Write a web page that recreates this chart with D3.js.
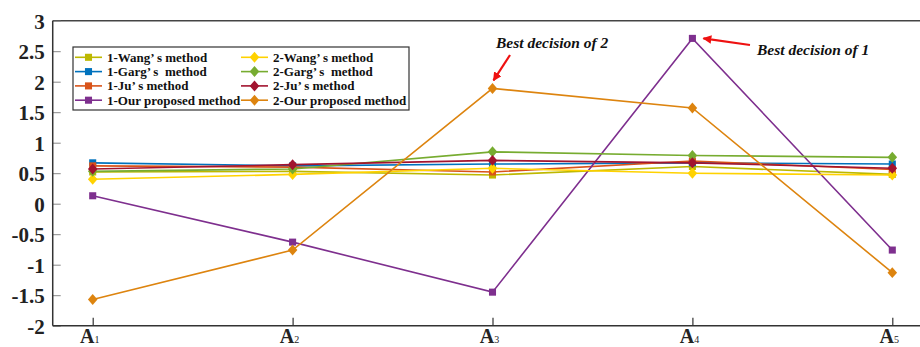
<!DOCTYPE html>
<html>
<head>
<meta charset="utf-8">
<script src="https://cdn.jsdelivr.net/npm/d3@7"></script>
<style>
  body { margin: 0; background: #fff; }
  svg text { font-family: "Liberation Serif", "Times New Roman", "DejaVu Serif", serif; }
</style>
</head>
<body>
<div id="chart"></div>
<script>
const alternatives = ["A1", "A2", "A3", "A4", "A5"];
const yTicks = [3, 2.5, 2, 1.5, 1, 0.5, 0, -0.5, -1, -1.5, -2];

const wang1 = [0.52, 0.53, 0.47, 0.61, 0.48];
const garg1 = [0.67, 0.62, 0.65, 0.67, 0.65];
const ju1   = [0.62, 0.60, 0.52, 0.70, 0.56];
const our1  = [0.13, -0.63, -1.45, 2.71, -0.76];
const wang2 = [0.40, 0.48, 0.58, 0.50, 0.47];
const garg2 = [0.53, 0.57, 0.85, 0.79, 0.76];
const ju2   = [0.57, 0.64, 0.71, 0.67, 0.58];
const our2  = [-1.57, -0.76, 1.89, 1.57, -1.13];

const series = [
  { name: "1-Wang’ s method", values: wang1, color: "#bdb800", shape: "square" },
  { name: "1-Garg’ s  method", values: garg1, color: "#0072bd", shape: "square" },
  { name: "1-Ju’ s method", values: ju1, color: "#d95319", shape: "square" },
  { name: "1-Our proposed method", values: our1, color: "#7e2f8e", shape: "square" },
  { name: "2-Wang’ s method", values: wang2, color: "#ffd200", shape: "diamond" },
  { name: "2-Garg’ s  method", values: garg2, color: "#77ac30", shape: "diamond" },
  { name: "2-Ju’ s method", values: ju2, color: "#a2142f", shape: "diamond" },
  { name: "2-Our proposed method", values: our2, color: "#dd840f", shape: "diamond" }
];

const width = 920, height = 347;
const svg = d3.select("#chart").append("svg")
  .attr("width", width).attr("height", height);

const x = d3.scaleLinear().domain([1, 5]).range([92.7, 892.3]);
const y = d3.scaleLinear().domain([-2, 3]).range([325.7, 20.7]);
const left = x(0.8), right = x(5.2);

// frame
svg.append("line").attr("x1", left).attr("x2", right).attr("y1", y(3)).attr("y2", y(3))
  .attr("stroke", "#444").attr("stroke-width", 1.5);

const yAxis = svg.append("g").attr("transform", `translate(${left},0)`)
  .call(d3.axisRight(y).tickValues(yTicks).tickSize(8).tickFormat(d => d));
yAxis.attr("font-family", null);
yAxis.select(".domain").remove();
yAxis.selectAll(".tick line").attr("stroke", "#888");
yAxis.selectAll(".tick text")
  .attr("x", -8).attr("text-anchor", "end").attr("dy", "0.35em")
  .attr("font-weight", "bold").attr("font-size", 21).attr("fill", "#222");
svg.append("line").attr("x1", left).attr("x2", left).attr("y1", y(3)).attr("y2", y(-2))
  .attr("stroke", "#333").attr("stroke-width", 1.5);

const xAxis = svg.append("g").attr("transform", `translate(0,${y(-2)})`)
  .call(d3.axisTop(x).tickValues([1, 2, 3, 4, 5]).tickSize(8).tickFormat(""));
xAxis.select(".domain").remove();
xAxis.selectAll(".tick line").attr("stroke", "#333").attr("stroke-width", 1.2);
svg.append("line").attr("x1", left).attr("x2", right).attr("y1", y(-2)).attr("y2", y(-2))
  .attr("stroke", "#333").attr("stroke-width", 1.5);

const xl = svg.append("g").selectAll("text").data(alternatives).enter().append("text")
  .attr("x", (d, i) => x(i + 1) - 3)
  .attr("y", 343)
  .attr("text-anchor", "middle")
  .attr("font-weight", "bold").attr("font-size", 20).attr("fill", "#222");
xl.append("tspan").text(d => d[0]);
xl.append("tspan").attr("font-size", 10).attr("font-weight", "normal").text(d => d[1]);

const line = d3.line().x((d, i) => x(i + 1)).y(d => y(d));
const sym = { square: d3.symbol().type(d3.symbolSquare).size(50),
              diamond: d3.symbol().type(d3.symbolDiamond2).size(58) };
const diamondStretch = " scale(1,1.15)";

series.forEach(s => {
  svg.append("path").datum(s.values).attr("d", line)
    .attr("fill", "none").attr("stroke", s.color).attr("stroke-width", 1.6);
});
series.forEach(s => {
  svg.append("g").selectAll("path").data(s.values).enter().append("path")
    .attr("d", sym[s.shape])
    .attr("transform", (d, i) => `translate(${x(i + 1)},${y(d)})` + (s.shape === "diamond" ? diamondStretch : ""))
    .attr("fill", s.color);
});

// legend
const lg = svg.append("g");
lg.append("rect").attr("x", 73).attr("y", 47).attr("width", 336).attr("height", 63)
  .attr("fill", "#fff").attr("stroke", "#333").attr("stroke-width", 1.2);
series.forEach((s, i) => {
  const col = Math.floor(i / 4), row = i % 4;
  const lx = col === 0 ? 75 : 241, ty = 57.3 + row * 14.3;
  lg.append("line").attr("x1", lx).attr("x2", lx + 27).attr("y1", ty).attr("y2", ty)
    .attr("stroke", s.color).attr("stroke-width", 1.6);
  lg.append("path").attr("d", sym[s.shape])
    .attr("transform", `translate(${lx + 13.5},${ty})` + (s.shape === "diamond" ? diamondStretch : ""))
    .attr("fill", s.color);
  lg.append("text").attr("x", lx + 32).attr("y", ty + 4.5)
    .attr("font-weight", "bold").attr("font-size", 13).attr("fill", "#111")
    .style("white-space", "pre")
    .text(s.name);
});

// annotations
const defs = svg.append("defs");
defs.append("marker").attr("id", "arr").attr("viewBox", "0 0 10 10")
  .attr("refX", 9).attr("refY", 5).attr("markerWidth", 4).attr("markerHeight", 4)
  .attr("orient", "auto")
  .append("path").attr("d", "M0,0 L10,5 L0,10 Z").attr("fill", "#ee1111");

const notes = [
  { text: "Best decision of 2", idx: 2, val: our2[2], tx: 496, ty: 48, ax: 510, ay: 55, dx: 1, dy: -8 },
  { text: "Best decision of 1", idx: 3, val: our1[3], tx: 757, ty: 55, ax: 750, ay: 45, dx: 11, dy: 0 }
];
notes.forEach(n => {
  svg.append("line")
    .attr("x1", n.ax).attr("y1", n.ay)
    .attr("x2", x(n.idx + 1) + n.dx).attr("y2", y(n.val) + n.dy)
    .attr("stroke", "#ee1111").attr("stroke-width", 2.2)
    .attr("marker-end", "url(#arr)");
  svg.append("text").attr("x", n.tx).attr("y", n.ty)
    .attr("font-style", "italic").attr("font-weight", "bold").attr("font-size", 15.5)
    .attr("fill", "#111").text(n.text);
});
</script>
</body>
</html>
